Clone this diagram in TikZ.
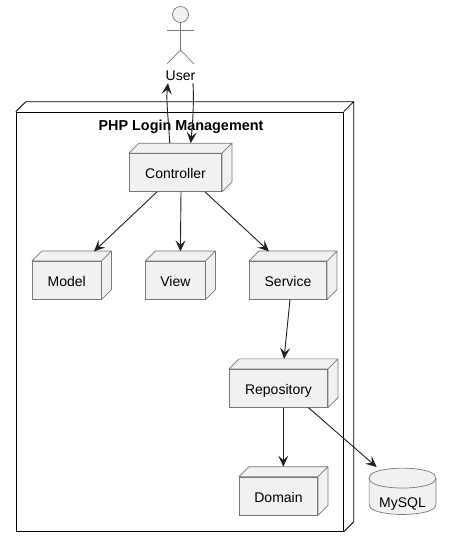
\documentclass[tikz,border=0pt]{standalone}
\usepackage{fontspec}
\setmainfont{Liberation Sans}
\usetikzlibrary{arrows.meta}
\definecolor{boxfill}{HTML}{F1F1F1}
\definecolor{boxline}{HTML}{787878}
\definecolor{linkline}{HTML}{202020}
\tikzstyle{label}   = [font=\fontsize{14}{16}\selectfont, text height=12pt, text depth=0pt]
\tikzstyle{part}    = [label, rectangle, draw=boxline, fill=boxfill, line width=.7pt, inner sep=0pt, minimum height=38pt,
    append after command={\pgfextra{
        \filldraw[draw=boxline, fill=boxfill, line width=.7pt, line join=round]
            (\tikzlastnode.north west) -- ([shift={(10pt,10pt)}]\tikzlastnode.north west)
            -- ([shift={(10pt,10pt)}]\tikzlastnode.north east) -- ([shift={(10pt,10pt)}]\tikzlastnode.south east)
            -- (\tikzlastnode.south east) -- (\tikzlastnode.north east) -- cycle
            (\tikzlastnode.north east) -- ([shift={(10pt,10pt)}]\tikzlastnode.north east);
    }}]
\tikzstyle{frame}   = [rectangle, draw=black, line width=.8pt, inner sep=0pt,
    append after command={\pgfextra{
        \draw[black, line width=.8pt]
            (\tikzlastnode.north west) -- ([shift={(10pt,10pt)}]\tikzlastnode.north west)
            -- ([shift={(10pt,10pt)}]\tikzlastnode.north east) -- ([shift={(10pt,10pt)}]\tikzlastnode.south east)
            -- (\tikzlastnode.south east)
            (\tikzlastnode.north east) -- ([shift={(10pt,10pt)}]\tikzlastnode.north east);
    }}]
\tikzstyle{database} = [label, text height=8pt, rectangle, inner sep=0pt, minimum width=66.4pt, minimum height=22pt,
    append after command={\pgfextra{
        \filldraw[draw=boxline, fill=boxfill, line width=.7pt]
            ([yshift=14pt]\tikzlastnode.north west)
            .. controls ([yshift=24pt]\tikzlastnode.north west) and ([yshift=24pt]\tikzlastnode.north) .. ([yshift=24pt]\tikzlastnode.north)
            .. controls ([yshift=24pt]\tikzlastnode.north) and ([yshift=24pt]\tikzlastnode.north east) .. ([yshift=14pt]\tikzlastnode.north east)
            -- ([yshift=10pt]\tikzlastnode.south east)
            .. controls (\tikzlastnode.south east) and (\tikzlastnode.south) .. (\tikzlastnode.south)
            .. controls (\tikzlastnode.south) and (\tikzlastnode.south west) .. ([yshift=10pt]\tikzlastnode.south west)
            -- cycle;
        \draw[boxline, line width=.7pt]
            ([yshift=14pt]\tikzlastnode.north west)
            .. controls ([yshift=4pt]\tikzlastnode.north west) and ([yshift=4pt]\tikzlastnode.north) .. ([yshift=4pt]\tikzlastnode.north)
            .. controls ([yshift=4pt]\tikzlastnode.north) and ([yshift=4pt]\tikzlastnode.north east) .. ([yshift=14pt]\tikzlastnode.north east);
    }}]
\tikzstyle{limb}    = [boxline, line width=.7pt]
\tikzstyle{arrow}   = [linkline, line width=.9pt, -{Stealth[length=11pt,width=10pt,inset=4.5pt]}]

\begin{document}
\begin{tikzpicture}[x=1pt,y=-1pt]
    \useasboundingbox (0,0) rectangle (451,547);

    \node[frame, minimum width=327pt, minimum height=419.3pt] (php) at (179.8,321.7) {};
    \node[label, font=\fontsize{14.4}{16}\selectfont\bfseries] (title) at (181,124) {PHP Login Management};

    % the user
    \node[circle, draw=boxline, fill=boxfill, line width=.7pt, inner sep=0pt, minimum size=16pt] (head) at (180.5,14.5) {};
    \coordinate (hip) at (180.5,50);
    \coordinate (armL) at (167,30);
    \coordinate (armR) at (194,30);
    \coordinate (footL) at (167,64);
    \coordinate (footR) at (194,64);
    \draw[limb] (head.south) -- (hip);
    \draw[limb] (armL) -- (armR);
    \draw[limb] (footL) -- (hip) -- (footR);
    \node[label, inner sep=0pt] (user) at (180.5,74) {User};

    % the parts
    \node[part, minimum width=92.4pt] (controller) at (175.5,172.5) {Controller};
    \node[part, minimum width=68.7pt] (model) at (66.7,280.3) {Model};
    \node[part, minimum width=59.3pt] (view) at (175.4,280.3) {View};
    \node[part, minimum width=77.4pt] (service) at (288,280.3) {Service};
    \node[part, minimum width=98.4pt] (repository) at (278.5,388.2) {Repository};
    \node[part, minimum width=78.4pt] (domain) at (278.5,496) {Domain};
    \node[database] (mysql) at (402.5,503.3) {MySQL};

    % the links
    \draw[arrow] ([xshift=-5.8pt,yshift=10pt]controller.north) .. controls (168.5,120) and (166,100) .. ([xshift=-12.5pt,yshift=-3pt]user.south);
    \draw[arrow] ([xshift=12.5pt,yshift=-3pt]user.south) .. controls (194,100) and (193,120) .. ([xshift=15.2pt,yshift=10pt]controller.north);
    \draw[arrow] ([xshift=-18.5pt]controller.south) -- ([xshift=27.3pt,yshift=9.6pt]model.north);
    \draw[arrow] ([xshift=5.5pt]controller.south) -- ([xshift=5pt,yshift=9.6pt]view.north);
    \draw[arrow] ([xshift=29.5pt]controller.south) -- ([xshift=-19pt,yshift=9.6pt]service.north);
    \draw[arrow] ([xshift=2pt]service.south) -- ([xshift=5.5pt,yshift=10pt]repository.north);
    \draw[arrow] ([xshift=4.8pt]repository.south) -- ([xshift=4.8pt,yshift=10pt]domain.north);
    \draw[arrow] ([xshift=29.8pt]repository.south) -- ([xshift=-25.8pt,yshift=25pt]mysql.north);
\end{tikzpicture}
\end{document}
